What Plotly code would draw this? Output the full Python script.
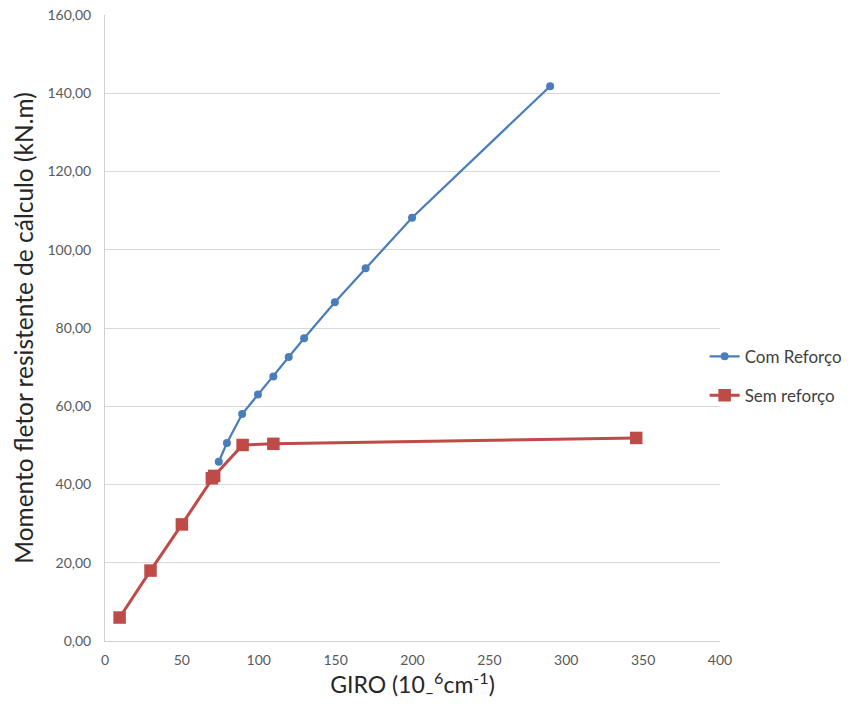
import plotly.graph_objects as go

# Com Reforço
com_giro = [74, 79.3, 89.2, 99.5, 109.5, 119.5, 129.5, 149.5, 169.5, 199.7, 289.5]
com_momento = [45.8, 50.6, 58.0, 63.0, 67.6, 72.6, 77.4, 86.6, 95.3, 108.2, 141.8]

# Sem reforço
sem_giro = [9.5, 29.6, 50.0, 69.5, 71.0, 89.5, 109.5, 345.5]
sem_momento = [6.0, 18.0, 29.8, 41.6, 42.2, 50.1, 50.4, 51.9]

x_ticks = list(range(0, 401, 50))
y_ticks = list(range(0, 161, 20))

blue = "#4A7EBB"
red = "#BE4B48"
font_family = "Lato, 'Open Sans', sans-serif"

fig = go.Figure()
fig.add_trace(go.Scatter(
    x=com_giro, y=com_momento, name="Com Reforço", mode="lines+markers",
    line=dict(color=blue, width=2.25),
    marker=dict(symbol="circle", size=8, color=blue),
    legendgroup="a",
))
fig.add_trace(go.Scatter(
    x=sem_giro, y=sem_momento, name="Sem reforço", mode="lines+markers",
    line=dict(color=red, width=3),
    marker=dict(symbol="square", size=12.5, color=red),
    legendgroup="b",
))

fig.update_layout(
    width=855, height=709,
    margin=dict(l=105, r=135, t=15, b=68, autoexpand=False),
    paper_bgcolor="white", plot_bgcolor="white",
    separators=",.",
    font=dict(family=font_family, color="#595959"),
    showlegend=True,
    legend=dict(
        x=0.975, xanchor="left", y=0.423, yanchor="middle",
        font=dict(size=17, color="#404040"),
        traceorder="grouped", tracegroupgap=14,
        bgcolor="rgba(0,0,0,0)",
    ),
    xaxis=dict(
        range=[0, 400], tickvals=x_ticks, showgrid=False, zeroline=False,
        showline=True, linecolor="#D0D0D0", linewidth=1,
        ticks="", tickfont=dict(size=14, color="#595959"),
        ticklabelstandoff=6,
        title=dict(text="GIRO (10<sub>–</sub><sup>6</sup>cm<sup>-1</sup>)",
                   font=dict(size=23, color="#262626"), standoff=10),
    ),
    yaxis=dict(
        range=[0, 160], tickvals=y_ticks, tickformat=".2f",
        showgrid=True, gridcolor="#D9D9D9", gridwidth=1, zeroline=False,
        showline=True, linecolor="#D0D0D0", linewidth=1,
        ticks="", tickfont=dict(size=14, color="#595959"),
        ticklabelstandoff=10,
        title=dict(text="Momento fletor resistente de cálculo (kN.m)",
                   font=dict(size=24.5, color="#262626"), standoff=6),
    ),
)

fig.write_html("out.html")
